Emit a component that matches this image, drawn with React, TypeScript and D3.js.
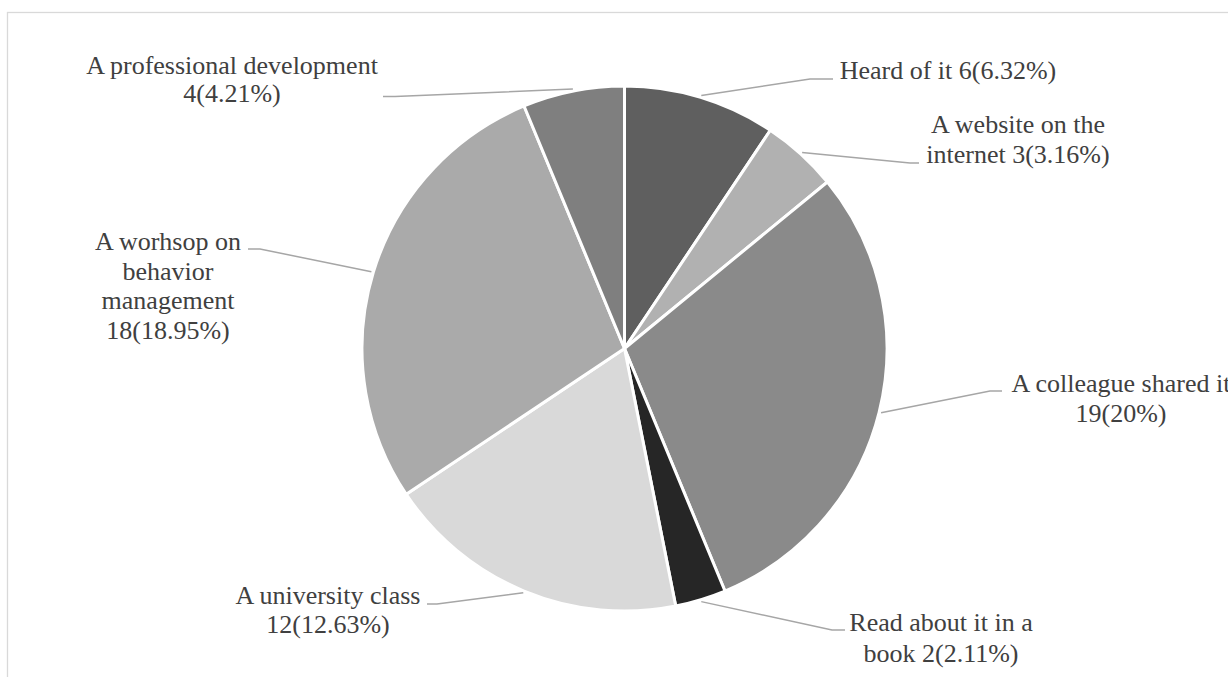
import React from "react";
import * as d3 from "d3";

const categories = [
  "Heard of it",
  "A website on the internet",
  "A colleague shared it",
  "Read about it in a book",
  "A university class",
  "A worhsop on behavior management",
  "A professional development",
];
const values = [6, 3, 19, 2, 12, 18, 4];
const percentLabels = ["6.32%", "3.16%", "20%", "2.11%", "12.63%", "18.95%", "4.21%"];
const sliceColors = ["#5f5f5f", "#b1b1b1", "#8a8a8a", "#262626", "#d9d9d9", "#aaaaaa", "#7f7f7f"];

// layout of labels (positions / wrapping only)
const labelLayout = [
  { words: [4], cx: 948, y: 79, elbow: [810, 79], end: [833, 79] },
  { words: [4, 2], cx: 1018, y: 133, elbow: [910, 163], end: [919, 163] },
  { words: [4, 1], cx: 1121, y: 392, elbow: [990, 391], end: [1002, 391] },
  { words: [5, 2], cx: 941, y: 631, elbow: [832, 630], end: [845, 630], lh: 31 },
  { words: [3, 1], cx: 328, y: 604, elbow: [437, 604], end: [427, 604], lh: 29 },
  { words: [3, 1, 1, 1], cx: 168, y: 250, elbow: [260, 249], end: [248, 249], lh: 29.5 },
  { words: [3, 1], cx: 232, y: 74, elbow: [395, 96.5], end: [383, 96.5], lh: 28 },
];

const W = 1228;
const H = 677;
const CX = 624.5;
const CY = 348.5;
const R = 262.5;
const FONT = "'Liberation Serif', 'Times New Roman', Times, 'DejaVu Serif', serif";

export default function App() {
  const pie = d3.pie<number>().sort(null).value((d) => d)(values);
  const arc = d3.arc<d3.PieArcDatum<number>>().innerRadius(0).outerRadius(R);
  const outerArc = d3.arc<d3.PieArcDatum<number>>().innerRadius(R + 2).outerRadius(R + 2);

  return (
    <svg
      width={W}
      height={H}
      style={{ position: "absolute", left: 0, top: 0, background: "#fff" }}
    >
      <rect x={7.5} y={12.5} width={1260} height={720} fill="#fff" stroke="#d9d9d9" strokeWidth={1.3} />
      <g transform={`translate(${CX},${CY})`}>
        {pie.map((p, i) => (
          <path key={i} d={arc(p) || ""} fill={sliceColors[i]} stroke="#fff" strokeWidth={3} strokeLinejoin="round" />
        ))}
      </g>
      {pie.map((p, i) => {
        const [sx, sy] = outerArc.centroid(p);
        const L = labelLayout[i];
        return (
          <polyline
            key={"l" + i}
            points={`${CX + sx},${CY + sy} ${L.elbow[0]},${L.elbow[1]} ${L.end[0]},${L.end[1]}`}
            fill="none"
            stroke="#a6a6a6"
            strokeWidth={1.5}
          />
        );
      })}
      {categories.map((c, i) => {
        const L = labelLayout[i];
        const words = `${c} ${values[i]}(${percentLabels[i]})`.split(" ");
        const lines: string[] = [];
        let k = 0;
        L.words.forEach((n) => {
          lines.push(words.slice(k, k + n).join(" "));
          k += n;
        });
        const lh = L.lh ?? 30;
        return (
          <text
            key={"t" + i}
            x={L.cx}
            y={L.y}
            textAnchor="middle"
            style={{ fontFamily: FONT, fontSize: "26px" }}
            fill="#404040"
          >
            {lines.map((ln, j) => (
              <tspan key={j} x={L.cx} y={L.y + j * lh}>
                {ln}
              </tspan>
            ))}
          </text>
        );
      })}
    </svg>
  );
}
